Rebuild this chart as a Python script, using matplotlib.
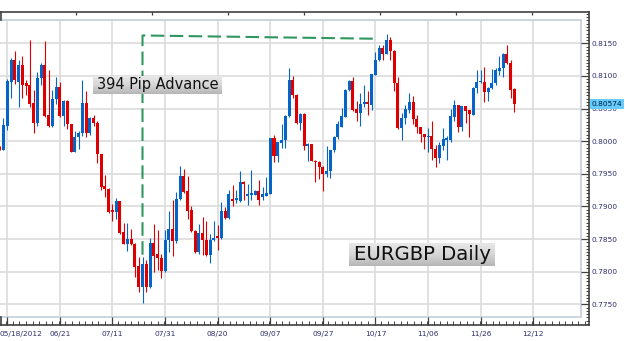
import numpy as np
import matplotlib
matplotlib.use("Agg")
import matplotlib.pyplot as plt
from matplotlib.patches import Rectangle
from matplotlib.ticker import FixedLocator, MultipleLocator
from matplotlib.colors import LinearSegmentedColormap
import matplotlib.transforms as mtransforms

# ---------------- data (EURGBP daily) ----------------
opens = [0.7990, 0.79862, 0.80230, 0.80911, 0.81244, 0.80911, 0.81167, 0.80886, 0.80860, 0.80578,
         0.80281, 0.80962, 0.81167, 0.80399, 0.80230, 0.80640, 0.80824, 0.80384, 0.80619, 0.80261,
         0.79836, 0.80057, 0.80118, 0.80589, 0.80119, 0.80349, 0.80283, 0.79802, 0.79311, 0.79270,
         0.78939, 0.78913, 0.79077, 0.78607, 0.78429, 0.78505, 0.78429, 0.78082, 0.77766, 0.78113,
         0.77766, 0.78439, 0.78266, 0.78215, 0.78011, 0.78480, 0.78659, 0.78470, 0.79118, 0.79459,
         0.79235, 0.78939, 0.78623, 0.78302, 0.78592, 0.78480, 0.78261, 0.78480, 0.78541, 0.78521,
         0.78929, 0.78827, 0.79118, 0.79102, 0.79082, 0.79367, 0.79153, 0.79169, 0.79169, 0.79235,
         0.79139, 0.79164, 0.79190, 0.80041, 0.79766, 0.79965, 0.80016, 0.80388, 0.80934, 0.80704,
         0.80271, 0.80424, 0.79929, 0.79955, 0.79700, 0.79674, 0.79608, 0.79496, 0.79536, 0.79863,
         0.80067, 0.80222, 0.80376, 0.80785, 0.80928, 0.80488, 0.80427, 0.80570, 0.80606, 0.80555,
         0.81015, 0.81245, 0.81434, 0.81336, 0.81551, 0.81388, 0.80897, 0.80197, 0.80350, 0.80478,
         0.80606, 0.80335, 0.80212, 0.80110, 0.80059, 0.80079, 0.79875, 0.79747, 0.79926, 0.80018,
         0.80018, 0.80376, 0.80555, 0.80212, 0.80539, 0.80478, 0.80401, 0.80810, 0.80902, 0.80912,
         0.80759, 0.80810, 0.80887, 0.81081, 0.81117, 0.81336, 0.81193, 0.80795]
highs = [0.7992, 0.80348, 0.80947, 0.81270, 0.81387, 0.81244, 0.81305, 0.80937, 0.81551, 0.80783,
         0.81065, 0.81203, 0.81541, 0.81090, 0.80783, 0.80988, 0.80911, 0.80630, 0.80630, 0.80270,
         0.80163, 0.80163, 0.80937, 0.80773, 0.80364, 0.80400, 0.80313, 0.79805, 0.79474, 0.79281,
         0.79041, 0.79128, 0.79080, 0.78750, 0.78745, 0.78659, 0.78440, 0.78225, 0.78225, 0.78184,
         0.78521, 0.78735, 0.78633, 0.78266, 0.78633, 0.78929, 0.79102, 0.79220, 0.79612, 0.79577,
         0.79459, 0.79000, 0.78643, 0.78725, 0.78837, 0.78776, 0.78582, 0.78776, 0.78710, 0.79067,
         0.78990, 0.79255, 0.79322, 0.79255, 0.79541, 0.79388, 0.79347, 0.79551, 0.79255, 0.79408,
         0.79302, 0.79444, 0.80045, 0.80097, 0.79985, 0.80261, 0.80398, 0.81128, 0.81000, 0.80720,
         0.80430, 0.80439, 0.79965, 0.79960, 0.79705, 0.79700, 0.79612, 0.79929, 0.79863, 0.80082,
         0.80312, 0.80504, 0.80795, 0.80938, 0.80989, 0.80621, 0.80734, 0.80861, 0.80769, 0.81030,
         0.81372, 0.81474, 0.81474, 0.81643, 0.81602, 0.81390, 0.80989, 0.80427, 0.80555, 0.80744,
         0.80693, 0.80401, 0.80222, 0.80115, 0.80197, 0.80314, 0.79941, 0.79992, 0.80197, 0.80079,
         0.80488, 0.80631, 0.80555, 0.80545, 0.80545, 0.80480, 0.80836, 0.81091, 0.81091, 0.81142,
         0.80836, 0.81101, 0.81117, 0.81306, 0.81347, 0.81474, 0.81245, 0.80810]
lows = [0.7986, 0.79860, 0.80169, 0.80655, 0.80875, 0.80517, 0.80655, 0.80706, 0.80527, 0.80128,
        0.80230, 0.80860, 0.80363, 0.80210, 0.80210, 0.80568, 0.80363, 0.80230, 0.80194, 0.79830,
        0.79830, 0.79877, 0.80077, 0.80067, 0.80093, 0.80231, 0.79659, 0.79249, 0.79143, 0.78898,
        0.78780, 0.78801, 0.78572, 0.78419, 0.78317, 0.78403, 0.77919, 0.77690, 0.77521, 0.77690,
        0.77751, 0.77996, 0.78021, 0.77909, 0.77996, 0.78301, 0.78235, 0.78439, 0.79102, 0.79204,
        0.78812, 0.78607, 0.78286, 0.78266, 0.78251, 0.78235, 0.78133, 0.78470, 0.78337, 0.78506,
        0.78812, 0.78812, 0.79000, 0.79051, 0.79067, 0.79092, 0.79016, 0.79102, 0.79169, 0.79016,
        0.79098, 0.79160, 0.79185, 0.79674, 0.79684, 0.79893, 0.79893, 0.80373, 0.80668, 0.80261,
        0.80169, 0.79863, 0.79689, 0.79689, 0.79368, 0.79419, 0.79230, 0.79445, 0.79434, 0.79827,
        0.80031, 0.80212, 0.80366, 0.80774, 0.80468, 0.80314, 0.80233, 0.80529, 0.80401, 0.80478,
        0.81010, 0.81234, 0.81245, 0.81336, 0.81245, 0.80774, 0.80182, 0.80018, 0.80263, 0.80427,
        0.80263, 0.80120, 0.79992, 0.79875, 0.79839, 0.79711, 0.79609, 0.79671, 0.79865, 0.79711,
        0.79992, 0.80314, 0.80146, 0.80161, 0.80274, 0.80069, 0.80401, 0.80734, 0.80887, 0.80606,
        0.80621, 0.80795, 0.80861, 0.81015, 0.80989, 0.81183, 0.80657, 0.80452]
closes = [0.7988, 0.80246, 0.80927, 0.81244, 0.80937, 0.81167, 0.80860, 0.80850, 0.80568, 0.80281,
          0.80962, 0.81167, 0.80384, 0.80230, 0.80640, 0.80824, 0.80384, 0.80619, 0.80261, 0.79836,
          0.80067, 0.80118, 0.80589, 0.80118, 0.80349, 0.80272, 0.79802, 0.79301, 0.79270, 0.78913,
          0.78913, 0.79077, 0.78592, 0.78429, 0.78505, 0.78429, 0.78072, 0.77766, 0.78113, 0.77766,
          0.78439, 0.78235, 0.78215, 0.78011, 0.78480, 0.78659, 0.78470, 0.79118, 0.79459, 0.79220,
          0.78929, 0.78623, 0.78302, 0.78592, 0.78480, 0.78261, 0.78480, 0.78521, 0.78521, 0.78929,
          0.78827, 0.79184, 0.79082, 0.79133, 0.79367, 0.79347, 0.79184, 0.79204, 0.79235, 0.79102,
          0.79190, 0.79200, 0.80041, 0.79766, 0.79980, 0.80021, 0.80388, 0.80934, 0.80704, 0.80271,
          0.80424, 0.79929, 0.79955, 0.79700, 0.79674, 0.79598, 0.79496, 0.79547, 0.79863, 0.80067,
          0.80261, 0.80386, 0.80785, 0.80928, 0.80478, 0.80427, 0.80570, 0.80606, 0.80570, 0.81025,
          0.81245, 0.81434, 0.81336, 0.81551, 0.81388, 0.80887, 0.80197, 0.80350, 0.80488, 0.80606,
          0.80335, 0.80212, 0.80110, 0.80059, 0.80079, 0.79875, 0.79747, 0.79941, 0.80033, 0.80044,
          0.80386, 0.80555, 0.80212, 0.80539, 0.80468, 0.80417, 0.80810, 0.80912, 0.80923, 0.80759,
          0.80810, 0.80887, 0.81091, 0.81127, 0.81336, 0.81193, 0.80785, 0.80574]

date_labels = ["05/18/2012", "06/21", "07/11", "07/31", "08/20", "09/07",
               "09/27", "10/17", "11/06", "11/26", "12/12"]
date_label_bars = [2, 16, 30, 44, 58, 72, 86, 100, 114, 128, 142]
price_ticks = [0.7750, 0.7800, 0.7850, 0.7900, 0.7950, 0.8000, 0.8050, 0.8100, 0.8150]

advance_label = "394 Pip Advance"
advance_x = [38, 38, 100]
advance_y = [0.7826, 0.8162, 0.8157]
title_label = "EURGBP Daily"

# ---------------- layout constants (pixels) ----------------
W, H = 625, 341
BAR_PX = 3.757
X0_PX = -0.26
FRAME_L, FRAME_R, FRAME_T, FRAME_B = 0, 589, 12, 325
PANEL_R, PANEL_T, PANEL_B = 581, 20, 317
Y_REF_P, Y_REF_PX, PX_PER_UNIT = 0.8150, 43.3, 6525.0


def px2bar(px):
    return (px - X0_PX) / BAR_PX


def px2price(py):
    return Y_REF_P - (py - Y_REF_PX) / PX_PER_UNIT


BLUE = "#0464C8"
RED = "#DE0000"
GRID = "#DCDCDC"
FRAME = "#404040"
LABEL = "#2E2E6E"

fig = plt.figure(figsize=(W / 100, H / 100), dpi=100)
fig.patch.set_facecolor("white")
ax = fig.add_axes([FRAME_L / W, 1 - FRAME_B / H, (FRAME_R - FRAME_L) / W, (FRAME_B - FRAME_T) / H])
ax.set_facecolor("white")
ax.set_xlim(px2bar(FRAME_L), px2bar(FRAME_R))
ax.set_ylim(px2price(FRAME_B), px2price(FRAME_T))

xr = px2bar(PANEL_R)
yb, yt = px2price(PANEL_B), px2price(PANEL_T)

# grid (limited to the inner panel)
ax.hlines(price_ticks, px2bar(-5), xr, colors=GRID, lw=1.2, zorder=0.5)
ax.vlines(date_label_bars, yb, yt, colors=GRID, lw=1.2, zorder=0.5)
# inner panel border
ax.add_patch(Rectangle((px2bar(-5), yb), xr - px2bar(-5), yt - yb, fill=False,
                       ec="#CCD5DF", lw=1.4, zorder=0.6))

# candles
O = np.array(opens); Hh = np.array(highs); L = np.array(lows); C = np.array(closes)
x = np.arange(len(O))
cols = np.where(C >= O, BLUE, RED)
ax.vlines(x, L, Hh, colors=cols, lw=0.8, zorder=2)
bottom = np.minimum(O, C)
height = np.maximum(np.abs(C - O), 1.0 / PX_PER_UNIT)
ax.bar(x, height, bottom=bottom, width=0.8, color=cols, lw=0, zorder=3)

# dashed advance line
ax.plot(advance_x, advance_y, color="#2F9660", lw=1.5, dashes=(6.5, 2.6), zorder=4,
        solid_capstyle="butt", dash_capstyle="butt")

# spines
for s in ["top", "right", "bottom"]:
    ax.spines[s].set_color(FRAME)
    ax.spines[s].set_linewidth(1.2)
ax.spines["left"].set_visible(False)
tr_left = mtransforms.blended_transform_factory(ax.transAxes, ax.transAxes)
hfrac = 8 / (FRAME_B - FRAME_T)
ax.plot([0.001, 0.001], [0, hfrac], color=FRAME, lw=1.2, transform=tr_left, clip_on=False)
ax.plot([0.001, 0.001], [1 - hfrac, 1], color=FRAME, lw=1.2, transform=tr_left, clip_on=False)

# y axis on the right
ax.yaxis.tick_right()
ax.yaxis.set_major_locator(FixedLocator(price_ticks))
ax.yaxis.set_minor_locator(MultipleLocator(0.0005))
ax.set_yticklabels([f"{v:.4f}" for v in price_ticks])
ax.tick_params(axis="y", which="major", direction="in", length=5.8, width=0.9, color=FRAME,
               labelsize=5.3, labelcolor=LABEL, pad=2)
ax.tick_params(axis="y", which="minor", direction="in", length=2.2, width=0.7, color=FRAME)

# x axis
ax.xaxis.set_major_locator(FixedLocator(date_label_bars))
ax.xaxis.set_minor_locator(MultipleLocator(1.75))
ax.set_xticklabels(date_labels)
ax.tick_params(axis="x", which="major", direction="in", length=5.8, width=0.9, color=FRAME,
               labelsize=5.3, labelcolor=LABEL, pad=4.5)
ax.tick_params(axis="x", which="minor", direction="in", length=2.6, width=0.7, color=FRAME)
first = ax.get_xticklabels()[0]
first.set_horizontalalignment("left")
first.set_transform(first.get_transform() +
                    mtransforms.ScaledTranslation(-7.3 / 100, 0, fig.dpi_scale_trans))

# small ticks on the top frame
top_ticks = [px2bar(p) for p in range(76, 560, 76)]
tr_top = mtransforms.blended_transform_factory(ax.transData, ax.transAxes)
ax.vlines(top_ticks, 1 - 3 / (FRAME_B - FRAME_T), 1, colors=FRAME, lw=0.9, transform=tr_top,
          clip_on=False)

# current price tag
tr_tag = mtransforms.blended_transform_factory(ax.transAxes, ax.transData)
ax.text(591.5 / (FRAME_R - FRAME_L), closes[-1], f"{closes[-1]:.5f}", transform=tr_tag,
        fontsize=5.3, color="#001830", ha="left", va="center", clip_on=False, zorder=10,
        bbox=dict(boxstyle="square,pad=0.25", fc="#66CCFF", ec="none"))

# gradient label boxes
cmap = LinearSegmentedColormap.from_list("g", ["#E8E8E8", "#D6D6D6", "#B6B6B6"])
grad = np.linspace(0, 1, 64).reshape(-1, 1)


def label_box(x0, y0, x1, y1, text, size):
    bax = fig.add_axes([x0 / W, 1 - y1 / H, (x1 - x0) / W, (y1 - y0) / H])
    bax.imshow(grad, aspect="auto", cmap=cmap, extent=[0, 1, 0, 1], origin="upper")
    bax.set_axis_off()
    bax.text(0.5, 0.5, text, fontsize=size, color="#111111", ha="center", va="center",
             transform=bax.transAxes)


label_box(93, 76, 222, 94, advance_label, 10.5)
label_box(349, 243, 495, 266, title_label, 14.2)

fig.savefig("out.png", dpi=100)
